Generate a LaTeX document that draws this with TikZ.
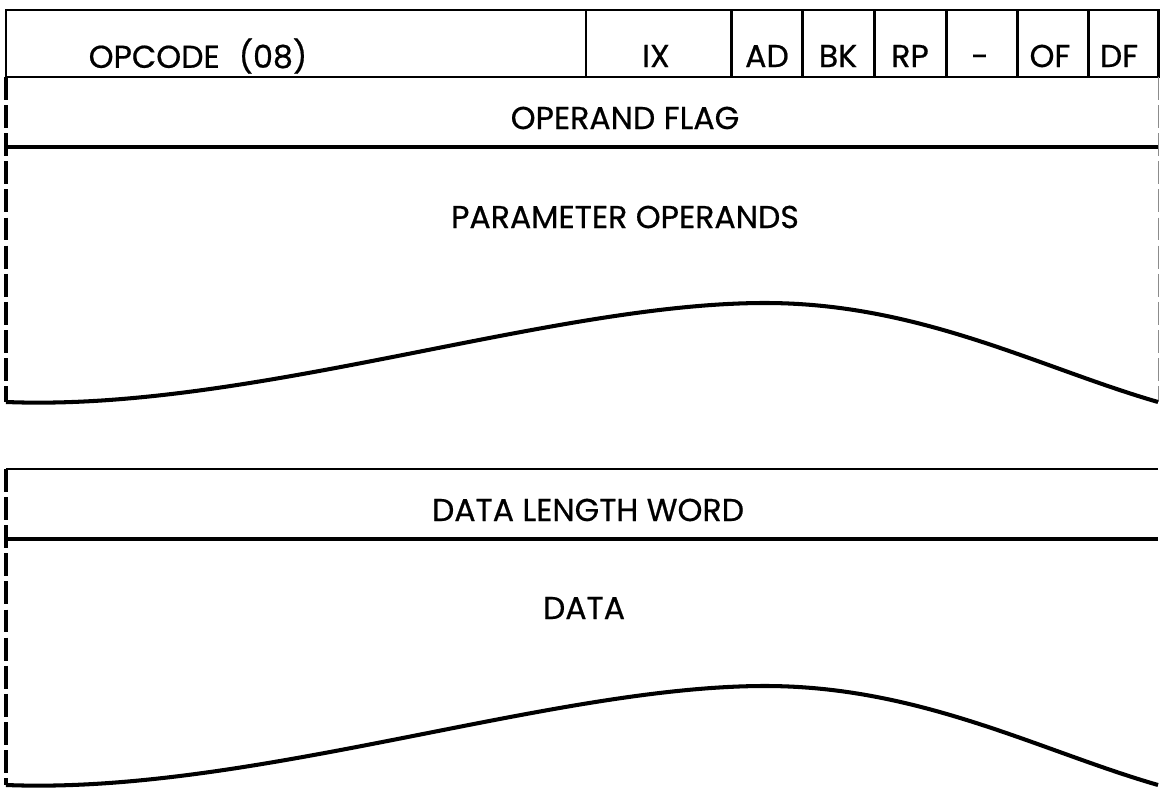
\documentclass[tikz,border=0pt]{standalone}
\usepackage{fontspec}
\newfontfamily\fieldfont{Poppins}[FakeBold=0.6]
\usepackage{tikz}

\tikzset{
  fieldline/.style={line width=1.7pt, black},
  brokenside/.style={line width=1.9pt, black, dash pattern=on 13pt off 3pt},
  faintside/.style={line width=0.5pt, black!45, dash pattern=on 13pt off 3pt},
  waveline/.style={line width=2.3pt, black},
  fieldtext/.style={font=\fieldfont\fontsize{18}{20}\selectfont, inner sep=0pt}
}

\begin{document}
\begin{tikzpicture}
\useasboundingbox (0,0) rectangle (23.260,15.780);
% instruction word
\begin{scope}[shift={(0.000,0.000)}]
\draw[fieldline] (0.120,14.240) rectangle (23.160,15.580);
\draw[fieldline] (11.720,14.240) -- (11.720,15.580);
\draw[fieldline] (14.620,14.240) -- (14.620,15.580);
\draw[fieldline] (16.040,14.240) -- (16.040,15.580);
\draw[fieldline] (17.480,14.240) -- (17.480,15.580);
\draw[fieldline] (18.920,14.240) -- (18.920,15.580);
\draw[fieldline] (20.340,14.240) -- (20.340,15.580);
\draw[fieldline] (21.760,14.240) -- (21.760,15.580);
\node[fieldtext] (opcode) at (3.960,14.660) {OPCODE\hspace{0.6em}(08)};
\node[fieldtext] (ix) at (13.120,14.660) {IX};
\node[fieldtext] (ad) at (15.340,14.660) {AD};
\node[fieldtext] (bk) at (16.760,14.660) {BK};
\node[fieldtext] (rp) at (18.200,14.660) {RP};
\node[fieldtext] (nb) at (19.600,14.560) {-};
\node[fieldtext] (of) at (21.000,14.660) {OF};
\node[fieldtext] (df) at (22.380,14.660) {DF};
% operand flag and parameter operands
\draw[brokenside] (0.120,14.240) -- (0.120,7.740);
\draw[faintside] (23.160,14.240) -- (23.160,7.740);
\draw[line width=1.9pt] (0.120,12.840) -- (23.160,12.840);
\node[fieldtext] (flag) at (12.500,13.420) {OPERAND FLAG};
\node[fieldtext] (params) at (12.500,11.440) {PARAMETER OPERANDS};
\draw[waveline] (0.120,7.740) .. controls (5.000,7.540) and (11.000,9.720) .. (15.300,9.720)
  .. controls (18.400,9.720) and (20.800,8.420) .. (23.160,7.740);
\end{scope}
% data part
\begin{scope}[shift={(0.000,0.000)}]
\draw[fieldline] (0.120,6.400) -- (23.160,6.400);
\draw[line width=1.9pt] (0.120,5.000) -- (23.160,5.000);
\draw[brokenside] (0.120,6.400) -- (0.120,0.080);
\node[fieldtext] (length) at (11.760,5.580) {DATA LENGTH WORD};
\node[fieldtext] (data) at (11.680,3.620) {DATA};
\draw[waveline] (0.120,0.080) .. controls (5.000,-0.120) and (11.000,2.060) .. (15.300,2.060)
  .. controls (18.400,2.060) and (20.800,0.760) .. (23.160,0.080);
\end{scope}
\end{tikzpicture}
\end{document}
